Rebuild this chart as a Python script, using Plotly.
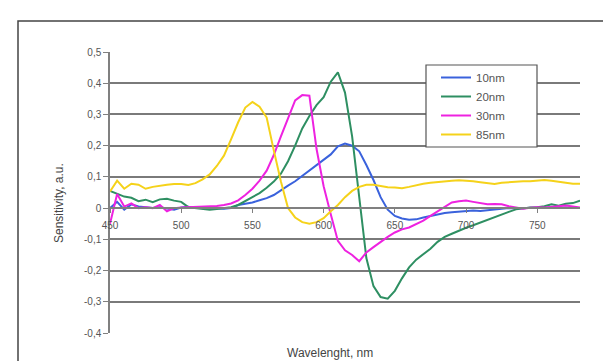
import plotly.graph_objects as go

wavelength = list(range(450, 781, 5))

s10nm = [0.0, 0.02, -0.005, 0.012, 0.005, 0.002, 0.0, 0.003, -0.002, -0.005,
         0.002, 0.004, 0.0, 0.002, 0.0, -0.002, -0.002, 0.0, 0.01, 0.014,
         0.018, 0.025, 0.032, 0.042, 0.058, 0.072, 0.086, 0.103, 0.12, 0.14,
         0.155, 0.172, 0.198, 0.207, 0.2, 0.182, 0.138, 0.09, 0.035, -0.005,
         -0.025, -0.033, -0.037, -0.036, -0.03, -0.025, -0.02, -0.016, -0.013, -0.011,
         -0.01, -0.008, -0.009, -0.007, -0.006, -0.003, 0.0, -0.001, 0.0, 0.002,
         0.002, 0.0, 0.003, 0.0, 0.002, 0.0, 0.0]

s20nm = [0.055, 0.047, 0.037, 0.033, 0.022, 0.027, 0.019, 0.028, 0.03, 0.024,
         0.02, 0.003, 0.0, -0.002, -0.005, -0.003, 0.0, 0.003, 0.01, 0.022,
         0.035, 0.048, 0.065, 0.085, 0.11, 0.15, 0.2, 0.255, 0.295, 0.33,
         0.355, 0.405, 0.435, 0.37, 0.23, 0.04, -0.16, -0.25, -0.285, -0.29,
         -0.265, -0.225, -0.19, -0.165, -0.148, -0.13, -0.108, -0.092, -0.082, -0.072,
         -0.063, -0.055, -0.046, -0.037, -0.028, -0.02, -0.012, -0.004, 0.0, 0.002,
         0.003, 0.006, 0.012, 0.008, 0.014, 0.016, 0.024]

s30nm = [-0.05, 0.045, 0.005, 0.015, 0.0, 0.003, 0.0, 0.01, -0.01, 0.0,
         0.002, 0.003, 0.004, 0.003, 0.005, 0.007, 0.01, 0.015, 0.025, 0.042,
         0.062, 0.088, 0.12, 0.17, 0.23, 0.29, 0.345, 0.362, 0.36, 0.19,
         0.07, -0.02, -0.105, -0.135, -0.15, -0.17, -0.142, -0.125, -0.108, -0.092,
         -0.078, -0.068, -0.062, -0.052, -0.04, -0.025, -0.01, 0.005, 0.018, 0.022,
         0.024, 0.02, 0.016, 0.012, 0.013, 0.012, 0.006, 0.001, -0.002, 0.001,
         0.003, 0.002, 0.005, 0.006, 0.008, 0.004, 0.002]

s85nm = [0.053, 0.088, 0.062, 0.078, 0.075, 0.062, 0.068, 0.072, 0.075, 0.077,
         0.077, 0.074, 0.08, 0.092, 0.108, 0.135, 0.168, 0.22, 0.275, 0.322,
         0.34, 0.325, 0.29, 0.185, 0.085, 0.0, -0.03, -0.045, -0.05, -0.045,
         -0.032, -0.01, 0.01, 0.035, 0.055, 0.068, 0.075, 0.075, 0.07, 0.067,
         0.066, 0.064, 0.068, 0.074, 0.078, 0.081, 0.084, 0.086, 0.088, 0.089,
         0.088, 0.086, 0.083, 0.08, 0.077, 0.081, 0.083, 0.084, 0.086, 0.086,
         0.088, 0.09, 0.088, 0.085, 0.08, 0.078, 0.078]

series_names = ["10nm", "20nm", "30nm", "85nm"]
series_values = [s10nm, s20nm, s30nm, s85nm]
series_colors = ["#3a62dc", "#2e8f62", "#ee22e0", "#f5d21a"]

x_tickvals = [450, 500, 550, 600, 650, 700, 750]
y_tickvals = [0.5, 0.4, 0.3, 0.2, 0.1, 0.0, -0.1, -0.2, -0.3, -0.4]
y_ticktext = ["0,5", "0,4", "0,3", "0,2", "0,1", "0", "-0,1", "-0,2", "-0,3", "-0,4"]

FONT = "Liberation Sans, Arial, sans-serif"

fig = go.Figure()
for name, vals, col in zip(series_names, series_values, series_colors):
    fig.add_trace(go.Scatter(x=wavelength, y=vals, mode="lines", name=name,
                             line=dict(color=col, width=2)))

L, R, T, B = 102, 39, 44, 36
W, H = 611, 361
pw, ph = W - L - R, H - T - B

def px_x(p):
    return (p - L) / pw

def px_y(p):
    return (H - B - p) / ph

fig.update_layout(
    width=W, height=H,
    margin=dict(l=L, r=R, t=T, b=B),
    paper_bgcolor="white", plot_bgcolor="white",
    font=dict(family=FONT, size=10, color="#555555"),
    showlegend=True,
    legend=dict(x=px_x(428), y=px_y(55), xanchor="left", yanchor="top",
                bgcolor="rgba(0,0,0,0)", borderwidth=0,
                font=dict(family=FONT, size=11.5, color="#555555"),
                itemwidth=30, tracegroupgap=0),
    xaxis=dict(range=[450, 780], tickvals=x_tickvals, ticks="outside",
               ticklen=4, tickcolor="#808080", showgrid=False, zeroline=False,
               showline=True, linecolor="#808080", linewidth=1.5,
               anchor="free", position=0.4 / 0.9, ticklabelstandoff=4,
               tickfont=dict(family=FONT, size=10, color="#555555")),
    yaxis=dict(range=[-0.4, 0.5], tickvals=y_tickvals, ticktext=y_ticktext,
               ticks="outside", ticklen=5, tickcolor="#808080",
               showgrid=True, gridcolor="#7a7a7a", gridwidth=1.5,
               zeroline=False, showline=True, linecolor="#808080", linewidth=1.5,
               tickfont=dict(family=FONT, size=10, color="#555555")),
    shapes=[
        dict(type="rect", xref="paper", yref="paper",
             x0=px_x(418), x1=px_x(529), y0=px_y(139), y1=px_y(57),
             line=dict(color="#555555", width=1.2), fillcolor="white", layer="above"),
        dict(type="rect", xref="paper", yref="paper",
             x0=px_x(10), x1=px_x(640), y0=px_y(400), y1=px_y(13),
             line=dict(color="#444444", width=1.5), fillcolor="rgba(0,0,0,0)", layer="above"),
    ],
    annotations=[
        dict(text="Sensitivity, a.u.", xref="paper", yref="paper",
             x=px_x(51), y=px_y(195), textangle=-90, showarrow=False,
             xanchor="center", yanchor="middle",
             font=dict(family=FONT, size=12, color="#444444")),
        dict(text="Wavelenght, nm", xref="paper", yref="paper",
             x=px_x(322), y=px_y(345), showarrow=False,
             xanchor="center", yanchor="middle",
             font=dict(family=FONT, size=12, color="#444444")),
    ],
)

fig.write_html("out.html")
